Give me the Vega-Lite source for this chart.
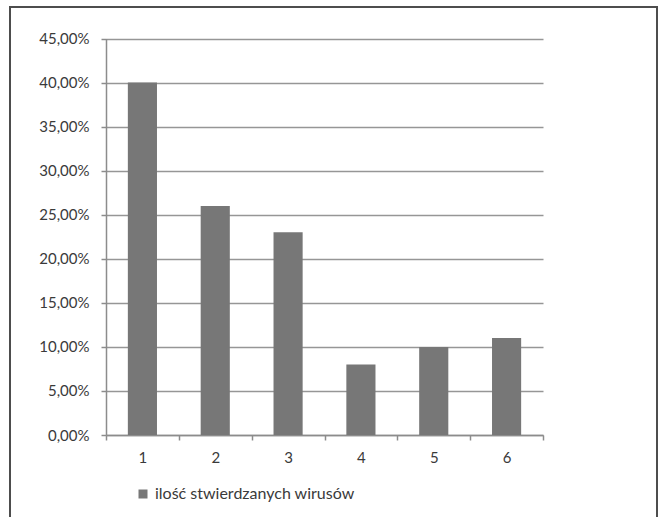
{
  "$schema": "https://vega.github.io/schema/vega-lite/v6.json",
  "width": 647,
  "height": 512,
  "autosize": {"type": "none"},
  "padding": {"left": 10, "top": 7, "right": 2, "bottom": 0},
  "background": "white",
  "config": {
    "view": {"stroke": "#4d4d4d", "strokeWidth": 2, "fill": "white"},
    "font": "Lato",
    "axis": {
      "labelFont": "Lato",
      "labelFontSize": 15,
      "labelColor": "#3a3a3a",
      "domainColor": "#8c8c8c",
      "domainWidth": 1.5,
      "tickColor": "#8c8c8c",
      "tickWidth": 1.5,
      "tickSize": 5,
      "gridColor": "#969696",
      "gridWidth": 1.5,
      "title": null
    }
  },
  "data": {
    "values": [
      {"kategoria": "1", "udzial": 0.40, "seria": "ilość stwierdzanych wirusów"},
      {"kategoria": "2", "udzial": 0.26, "seria": "ilość stwierdzanych wirusów"},
      {"kategoria": "3", "udzial": 0.23, "seria": "ilość stwierdzanych wirusów"},
      {"kategoria": "4", "udzial": 0.08, "seria": "ilość stwierdzanych wirusów"},
      {"kategoria": "5", "udzial": 0.10, "seria": "ilość stwierdzanych wirusów"},
      {"kategoria": "6", "udzial": 0.11, "seria": "ilość stwierdzanych wirusów"}
    ]
  },
  "mark": {"type": "bar", "width": {"band": 0.4}},
  "encoding": {
    "x": {
      "field": "kategoria",
      "type": "nominal",
      "sort": null,
      "scale": {"range": [96, 533], "paddingInner": 0, "paddingOuter": 0},
      "axis": {
        "orient": "bottom",
        "offset": -84,
        "labelAngle": 0,
        "tickBand": "extent",
        "labelPadding": 10,
        "grid": false
      }
    },
    "y": {
      "field": "udzial",
      "type": "quantitative",
      "scale": {"domain": [0, 0.45], "range": [428, 31.5], "nice": false, "zero": true},
      "axis": {
        "orient": "left",
        "offset": -96,
        "values": [0, 0.05, 0.1, 0.15, 0.2, 0.25, 0.3, 0.35, 0.4, 0.45],
        "labelExpr": "replace(format(datum.value, '.2%'), '.', ',')",
        "labelPadding": 12,
        "grid": true
      }
    },
    "color": {
      "field": "seria",
      "type": "nominal",
      "scale": {"range": ["#777777"]},
      "legend": {
        "orient": "none",
        "legendX": 125,
        "legendY": 479,
        "title": null,
        "padding": 0,
        "symbolType": "square",
        "symbolSize": 81,
        "symbolStrokeWidth": 0,
        "labelFont": "Lato",
        "labelFontSize": 16,
        "labelColor": "#3a3a3a",
        "labelOffset": 4,
        "labelLimit": 0
      }
    }
  }
}
